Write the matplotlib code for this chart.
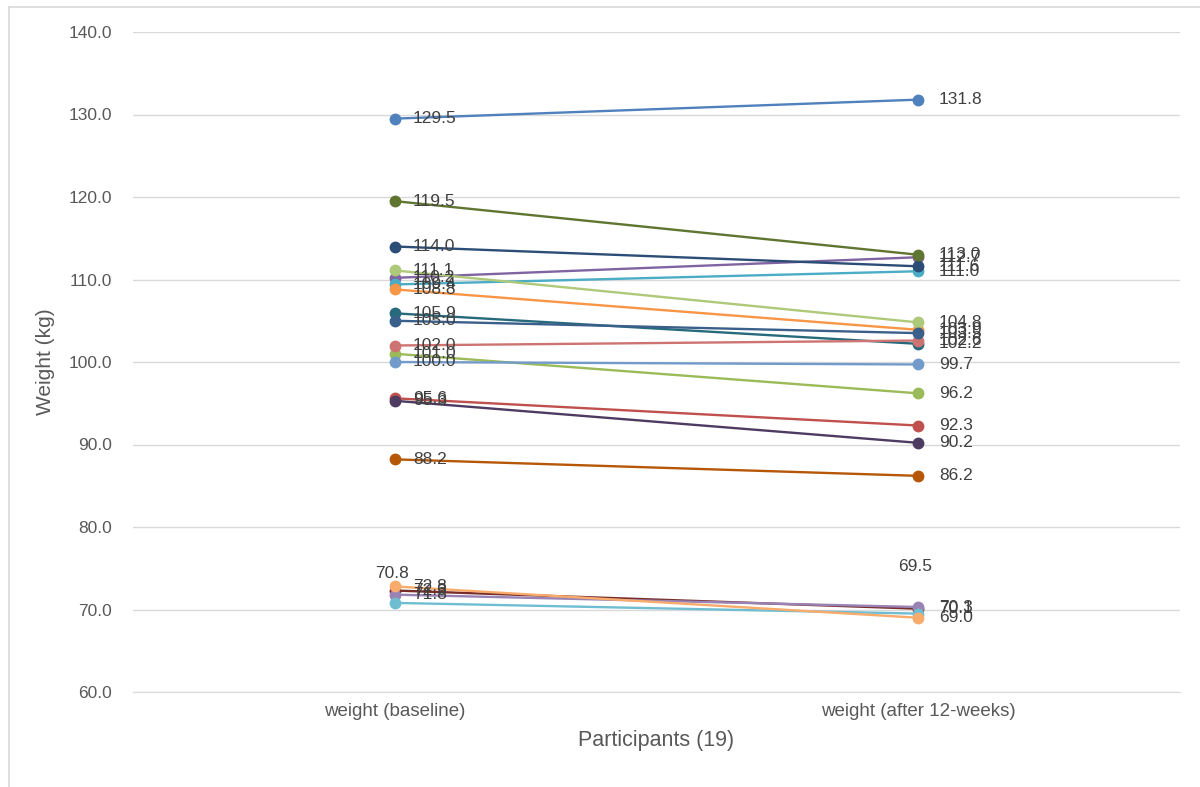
import matplotlib
matplotlib.use("Agg")
import matplotlib.pyplot as plt
from matplotlib.lines import Line2D

categories = ["weight (baseline)", "weight (after 12-weeks)"]
baseline = [129.5, 95.6, 101.0, 110.2, 109.4, 108.8, 114.0, 72.3, 119.5, 95.3,
            105.9, 88.2, 100.0, 102.0, 111.1, 71.8, 70.8, 72.8, 105.0]
after = [131.8, 92.3, 96.2, 112.7, 111.0, 103.9, 111.6, 70.1, 113.0, 90.2,
         102.2, 86.2, 99.7, 102.6, 104.8, 70.3, 69.5, 69.0, 103.5]
colors = ["#4F81BD", "#C0504D", "#9BBB59", "#8064A2", "#4BACC6", "#F79646",
          "#2C4D75", "#772C2A", "#5F7530", "#4D3B62", "#276A7C", "#B65708",
          "#729ACA", "#CD7371", "#AFC97A", "#9983B5", "#6FBDD1", "#F9AB6B",
          "#3A5F8B"]
yticks = [60, 70, 80, 90, 100, 110, 120, 130, 140]
# label placement: "right" or "above"
label_pos = ["right"] * 19
label_pos[16] = "above"

W, H = 1200, 787
fig = plt.figure(figsize=(W / 100, H / 100), dpi=100)
ax = fig.add_axes([133 / W, 1 - 692 / H, (1180 - 133) / W, (692 - 32) / H])

font = "Liberation Sans"
lab_col = "#404040"
xs = [0, 1]
for i, (b, a) in enumerate(zip(baseline, after)):
    ax.plot(xs, [b, a], color=colors[i], lw=1.7, marker="o", ms=7.5,
            solid_capstyle="round", zorder=3 + i * 0.01)
    for x, v in zip(xs, [b, a]):
        if label_pos[i] == "above":
            dy = 21 if x == 0 else 34
            ax.annotate(f"{v:.1f}", (x, v), xytext=(-2, dy), textcoords="offset points",
                        ha="center", va="center", fontsize=12.5, color=lab_col,
                        family=font, zorder=5)
        else:
            ax.annotate(f"{v:.1f}", (x, v), xytext=(13 if x == 0 else 15, 0),
                        textcoords="offset points", ha="left", va="center",
                        fontsize=12.5, color=lab_col, family=font, zorder=5)

ax.set_xlim(-0.5, 1.5)
ax.set_ylim(60, 140)
ax.set_yticks(yticks)
ax.set_yticklabels([f"{t:.1f}" for t in yticks], family=font, fontsize=12.5, color="#595959")
ax.set_xticks(xs)
ax.set_xticklabels(categories, family=font, fontsize=13.5, color="#595959")
ax.tick_params(axis="both", length=0)
ax.tick_params(axis="y", pad=15)
ax.tick_params(axis="x", pad=8)
ax.grid(axis="y", color="#D9D9D9", lw=1)
ax.set_axisbelow(True)
for s in ["top", "right", "left"]:
    ax.spines[s].set_visible(False)
ax.spines["bottom"].set_color("#D9D9D9")
ax.set_ylabel("Weight (kg)", family=font, fontsize=15, color="#595959", labelpad=10)
ax.set_xlabel("Participants (19)", family=font, fontsize=15.5, color="#595959", labelpad=7)

# chart area border
fig.add_artist(Line2D([9 / W, 1], [1 - 7 / H, 1 - 7 / H], color="#D9D9D9", lw=1.2,
                      transform=fig.transFigure))
fig.add_artist(Line2D([9 / W, 9 / W], [0, 1 - 7 / H], color="#D9D9D9", lw=1.2,
                      transform=fig.transFigure))

fig.savefig("out.png", dpi=100, facecolor="white")
